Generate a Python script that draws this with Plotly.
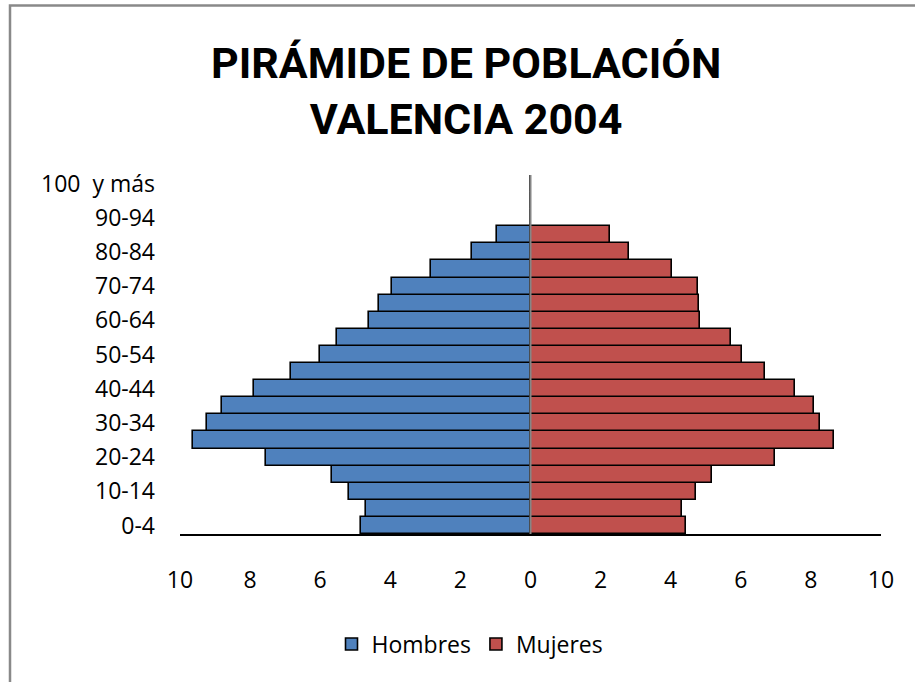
import plotly.graph_objects as go

# --- data ---
age_groups = ["0-4", "5-9", "10-14", "15-19", "20-24", "25-29", "30-34", "35-39",
              "40-44", "45-49", "50-54", "55-59", "60-64", "65-69", "70-74",
              "75-79", "80-84", "85-89", "90-94", "95-99", "100  y más"]
hombres = [4.85, 4.70, 5.17, 5.65, 7.55, 9.62, 9.23, 8.79, 7.90, 6.83, 6.02,
           5.53, 4.60, 4.32, 3.94, 2.85, 1.66, 0.97, 0, 0, 0]
mujeres = [4.45, 4.32, 4.73, 5.18, 6.98, 8.66, 8.27, 8.08, 7.56, 6.69, 6.02,
           5.72, 4.84, 4.82, 4.77, 4.03, 2.81, 2.26, 0, 0, 0]
x_ticks = [-10, -8, -6, -4, -2, 0, 2, 4, 6, 8, 10]
x_ticktext = [str(abs(v)) for v in x_ticks]
y_ticks = age_groups[::2]
title_lines = ["PIRÁMIDE DE POBLACIÓN", "VALENCIA 2004"]

W, H = 915, 682
L, R, T, B = 180, 34, 175, 148
pw, ph = W - L - R, H - T - B

def px_x(x):
    return (x - L) / pw

def px_y(y):
    return (H - B - y) / ph

tick_font = dict(family="Open Sans, Noto Sans, sans-serif", size=23, color="#000000")

fig = go.Figure()
fig.add_trace(go.Bar(
    y=age_groups, x=[-v for v in hombres], orientation="h", name="Hombres",
    marker=dict(color="#4F81BD", line=dict(color="#000000", width=1.6)),
))
fig.add_trace(go.Bar(
    y=age_groups, x=mujeres, orientation="h", name="Mujeres",
    marker=dict(color="#C0504D", line=dict(color="#000000", width=1.6)),
))

fig.update_layout(
    width=W, height=H,
    margin=dict(l=L, r=R, t=T, b=B, autoexpand=False),
    paper_bgcolor="white", plot_bgcolor="white",
    barmode="overlay", bargap=0,
    showlegend=True,
    legend=dict(orientation="h", x=px_x(470), xanchor="center", y=px_y(644), yanchor="middle",
                font=tick_font, itemwidth=30, tracegroupgap=0),
    xaxis=dict(range=[-10, 10], tickvals=x_ticks, ticktext=x_ticktext,
               showgrid=False, zeroline=False, showline=True, linecolor="#000000",
               linewidth=2, ticks="", tickfont=tick_font, ticklabelstandoff=24),
    yaxis=dict(categoryorder="array", categoryarray=age_groups,
               range=[-0.5, len(age_groups) - 0.5],
               tickvals=y_ticks, showgrid=False, zeroline=False, showline=False,
               ticks="", tickfont=tick_font, ticklabelstandoff=24),
)

fig.add_shape(type="line", xref="x", yref="paper", x0=0, x1=0, y0=0, y1=1,
              line=dict(color="#868686", width=2), layer="above")
fig.add_shape(type="rect", xref="paper", yref="paper",
              x0=px_x(10), x1=px_x(930), y0=px_y(700), y1=px_y(5.5),
              line=dict(color="#898989", width=2.5), fillcolor="rgba(0,0,0,0)", layer="below")

title_font = dict(family="Roboto, Liberation Sans, sans-serif", size=43, color="#000000")
fig.add_annotation(text="<b>" + "<br>".join(title_lines) + "</b>", xref="paper", yref="paper",
                   x=px_x(466), y=px_y(91), xanchor="center", yanchor="middle",
                   showarrow=False, font=title_font)

fig.write_html("out.html", config={"displayModeBar": False},
               post_script="document.body.style.margin='0px';")
